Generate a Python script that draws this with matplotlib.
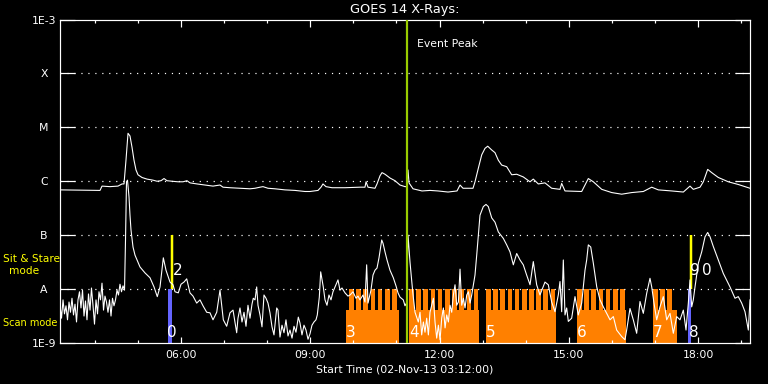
import matplotlib
matplotlib.use("Agg")
import matplotlib.pyplot as plt
import numpy as np

# ---------------- data (time in decimal hours of 02-Nov-13, flux as log10 W/m^2)
long_t = [3.200, 4.128, 4.174, 4.359, 4.545, 4.638, 4.684, 4.730, 4.777, 4.823,
          4.870, 4.916, 4.962, 5.009, 5.101, 5.217, 5.357, 5.449, 5.542, 5.612,
          5.681, 5.797, 5.936, 6.052, 6.145, 6.214, 6.377, 6.562, 6.748, 6.910,
          6.980, 7.142, 7.374, 7.606, 7.722, 7.838, 7.907, 8.023, 8.185, 8.417,
          8.649, 8.881, 8.997, 9.183, 9.252, 9.298, 9.368, 9.507, 9.809, 10.156,
          10.272, 10.296, 10.342, 10.504, 10.551, 10.620, 10.667, 10.736, 10.852, 10.968,
          11.084, 11.200, 11.246, 11.270, 11.293, 11.386, 11.594, 11.780, 11.966, 12.198,
          12.406, 12.476, 12.545, 12.777, 12.823, 12.900, 12.979, 13.055, 13.118, 13.211,
          13.287, 13.364, 13.442, 13.558, 13.674, 13.790, 13.943, 14.099, 14.175, 14.291,
          14.446, 14.601, 14.794, 14.833, 14.910, 15.297, 15.374, 15.451, 15.567, 15.762,
          15.994, 16.225, 16.457, 16.726, 16.921, 17.074, 17.385, 17.654, 17.809, 17.885,
          18.041, 18.117, 18.219, 18.312, 18.465, 18.697, 18.928, 19.200]
long_log = [-6.16, -6.17, -6.09, -6.10, -6.09, -6.05, -6.05, -5.61, -5.11, -5.16,
            -5.37, -5.61, -5.79, -5.88, -5.93, -5.96, -5.98, -6.00, -5.99, -5.95,
            -5.99, -6.00, -6.01, -6.01, -5.99, -6.03, -6.05, -6.07, -6.09, -6.07,
            -6.11, -6.12, -6.13, -6.14, -6.13, -6.11, -6.10, -6.13, -6.14, -6.16,
            -6.17, -6.19, -6.19, -6.17, -6.11, -6.05, -6.10, -6.12, -6.12, -6.11,
            -6.11, -6.01, -6.11, -6.13, -6.05, -5.90, -5.84, -5.87, -5.94, -5.99,
            -6.07, -6.10, -6.10, -5.79, -6.03, -6.14, -6.18, -6.17, -6.18, -6.20,
            -6.18, -6.07, -6.13, -6.13, -6.01, -5.76, -5.51, -5.39, -5.35, -5.42,
            -5.47, -5.61, -5.70, -5.73, -5.88, -5.87, -5.92, -6.01, -5.96, -6.05,
            -6.03, -6.13, -6.15, -6.04, -6.18, -6.19, -6.07, -5.95, -6.01, -6.15,
            -6.21, -6.24, -6.21, -6.19, -6.11, -6.16, -6.18, -6.20, -6.09, -6.15,
            -6.11, -6.01, -5.78, -5.84, -5.93, -6.01, -6.06, -6.13]

short_t = [3.200, 3.235, 3.270, 3.304, 3.339, 3.374, 3.409, 3.443, 3.478, 3.513,
           3.548, 3.583, 3.617, 3.652, 3.687, 3.722, 3.757, 3.791, 3.826, 3.861,
           3.896, 3.930, 3.965, 4.000, 4.035, 4.070, 4.104, 4.139, 4.174, 4.209,
           4.243, 4.278, 4.313, 4.348, 4.383, 4.417, 4.452, 4.487, 4.522, 4.556,
           4.591, 4.626, 4.661, 4.696, 4.719, 4.742, 4.765, 4.800, 4.823, 4.846,
           4.893, 4.939, 5.055, 5.171, 5.287, 5.380, 5.456, 5.519, 5.596, 5.658,
           5.751, 5.820, 5.867, 5.943, 6.006, 6.075, 6.138, 6.214, 6.284, 6.370,
           6.446, 6.516, 6.602, 6.678, 6.748, 6.834, 6.910, 6.987, 7.065, 7.142,
           7.212, 7.297, 7.327, 7.374, 7.420, 7.467, 7.513, 7.559, 7.606, 7.652,
           7.682, 7.722, 7.761, 7.791, 7.838, 7.884, 7.930, 7.977, 8.023, 8.069,
           8.116, 8.162, 8.225, 8.255, 8.301, 8.348, 8.394, 8.440, 8.487, 8.533,
           8.580, 8.626, 8.672, 8.726, 8.765, 8.811, 8.858, 8.904, 8.951, 8.997,
           9.043, 9.090, 9.136, 9.166, 9.213, 9.245, 9.305, 9.345, 9.391, 9.437,
           9.484, 9.530, 9.600, 9.646, 9.693, 9.739, 9.809, 9.878, 9.925, 9.994,
           10.064, 10.110, 10.156, 10.226, 10.272, 10.311, 10.342, 10.411, 10.458, 10.504,
           10.551, 10.597, 10.660, 10.690, 10.736, 10.783, 10.852, 10.929, 10.991, 11.038,
           11.084, 11.160, 11.200, 11.235, 11.270, 11.316, 11.379, 11.432, 11.508, 11.548,
           11.587, 11.626, 11.664, 11.703, 11.742, 11.780, 11.819, 11.858, 11.896, 11.935,
           11.974, 12.013, 12.051, 12.090, 12.129, 12.167, 12.206, 12.244, 12.283, 12.322,
           12.360, 12.399, 12.438, 12.476, 12.515, 12.554, 12.592, 12.631, 12.670, 12.708,
           12.747, 12.786, 12.823, 12.863, 12.939, 13.016, 13.078, 13.132, 13.211, 13.287,
           13.364, 13.480, 13.558, 13.635, 13.712, 13.790, 13.867, 13.943, 14.021, 14.099,
           14.175, 14.253, 14.330, 14.446, 14.523, 14.601, 14.678, 14.755, 14.794, 14.833,
           14.871, 14.910, 14.949, 14.987, 15.065, 15.142, 15.218, 15.297, 15.374, 15.413,
           15.451, 15.507, 15.567, 15.646, 15.722, 15.799, 15.877, 15.954, 16.031, 16.108,
           16.224, 16.301, 16.340, 16.417, 16.494, 16.572, 16.649, 16.726, 16.804, 16.881,
           16.921, 16.974, 17.036, 17.113, 17.190, 17.268, 17.345, 17.422, 17.500, 17.577,
           17.654, 17.716, 17.770, 17.809, 17.848, 17.885, 17.925, 18.002, 18.080, 18.157,
           18.219, 18.273, 18.349, 18.465, 18.581, 18.736, 18.852, 18.928, 19.007, 19.084,
           19.161, 19.200]
short_log = [-8.30, -8.54, -8.20, -8.46, -8.31, -8.57, -8.24, -8.43, -8.17, -8.48,
             -8.28, -8.61, -8.20, -8.05, -8.35, -8.02, -8.50, -8.22, -8.57, -8.09,
             -8.39, -7.98, -8.30, -8.65, -8.20, -8.46, -8.05, -8.20, -7.89, -8.39,
             -8.13, -8.24, -8.43, -8.20, -8.50, -8.17, -8.31, -8.20, -8.02, -8.11,
             -7.91, -8.05, -7.94, -8.02, -7.09, -6.01, -5.98, -6.29, -6.63, -6.90,
             -7.22, -7.37, -7.59, -7.70, -7.79, -7.96, -8.14, -7.96, -7.42, -7.65,
             -7.87, -7.92, -8.05, -8.07, -7.91, -7.87, -7.81, -8.07, -8.13, -8.26,
             -8.20, -8.31, -8.43, -8.44, -8.57, -8.43, -8.02, -8.57, -8.69, -8.44,
             -8.39, -8.81, -8.54, -8.35, -8.61, -8.43, -8.69, -8.30, -8.54, -8.28,
             -8.17, -8.20, -7.96, -8.30, -8.48, -8.70, -8.11, -8.17, -8.26, -8.44,
             -8.70, -8.85, -8.35, -8.39, -8.89, -8.67, -8.81, -8.57, -8.87, -8.76,
             -8.91, -8.69, -8.80, -8.52, -8.63, -8.85, -8.67, -8.76, -8.93, -8.83,
             -8.67, -8.61, -8.57, -8.48, -8.15, -7.68, -7.96, -8.20, -8.30, -8.11,
             -8.20, -8.05, -7.92, -7.83, -8.02, -7.98, -8.07, -8.13, -8.11, -8.05,
             -8.17, -8.13, -8.20, -8.11, -8.24, -7.55, -8.26, -8.02, -7.74, -7.65,
             -7.61, -7.42, -7.09, -7.15, -7.31, -7.46, -7.65, -7.79, -7.94, -8.07,
             -8.15, -8.20, -8.31, -8.26, -7.00, -7.50, -8.05, -8.43, -8.61, -8.43,
             -8.85, -8.61, -8.80, -8.54, -8.85, -8.43, -8.30, -8.17, -8.61, -8.91,
             -8.67, -8.94, -8.54, -8.35, -8.72, -8.48, -8.61, -8.30, -8.43, -8.11,
             -7.92, -8.30, -8.24, -7.63, -8.30, -8.17, -8.35, -8.11, -8.05, -8.26,
             -8.11, -7.92, -7.74, -7.37, -6.63, -6.47, -6.43, -6.47, -6.68, -6.76,
             -6.94, -7.06, -7.18, -7.31, -7.55, -7.34, -7.46, -7.55, -7.74, -7.92,
             -7.49, -7.92, -8.11, -7.87, -7.92, -8.24, -8.42, -8.11, -7.86, -8.42,
             -7.46, -8.48, -8.35, -8.60, -8.54, -8.14, -8.48, -8.26, -7.65, -7.46,
             -7.18, -7.22, -7.52, -7.96, -8.20, -8.33, -8.45, -8.57, -8.51, -8.76,
             -8.88, -8.94, -8.76, -8.36, -8.57, -8.82, -8.23, -8.45, -8.08, -7.80,
             -7.96, -8.26, -8.57, -8.33, -8.14, -8.57, -8.45, -8.82, -8.51, -8.57,
             -8.39, -8.76, -8.26, -7.83, -8.33, -8.20, -7.96, -7.52, -7.31, -7.03,
             -6.95, -7.03, -7.21, -7.46, -7.71, -7.96, -8.17, -8.14, -8.26, -8.42,
             -8.76, -8.20]

# scan-mode blocks: start, end, first tooth, number of teeth
scan_start = [9.832, 11.293, 13.078, 15.188, 16.951]
scan_end = [11.061, 12.916, 14.701, 16.325, 17.507]
scan_first_tooth = [9.901, 11.293, 13.078, 15.188, 16.951]
scan_n_teeth = [7, 10, 10, 7, 3]
tooth_period_h = 10.0 / 60.0
tooth_width_h = 6.5 / 60.0
scan_block_top = 10 ** -8.39

# sit & stare / single scan markers
blue_start = [5.697, 17.762]
blue_end = [5.790, 17.832]
stare_t = [5.800, 17.840]

event_peak_t = 11.246

obs_labels = ["0", "2", "3", "4", "5", "6", "7", "8", "9", "0"]
obs_t = [5.80, 5.92, 9.95, 11.40, 13.19, 15.30, 17.06, 17.89, 17.93, 18.20]
obs_log = [-8.81, -7.66, -8.81, -8.81, -8.81, -8.81, -8.81, -8.81, -7.66, -7.66]

ytick_vals = [1e-9, 1e-8, 1e-7, 1e-6, 1e-5, 1e-4, 1e-3]
ytick_labels = ["1E-9", "A", "B", "C", "M", "X", "1E-3"]
grid_levels = [1e-8, 1e-7, 1e-6, 1e-5, 1e-4]
xtick_major = [6, 9, 12, 15, 18]
xtick_labels = ["06:00", "09:00", "12:00", "15:00", "18:00"]
xtick_minor = list(range(4, 20))

# ---------------- figure
W, H = 768, 384
fig = plt.figure(figsize=(W / 100, H / 100), dpi=100, facecolor="black")
ax = fig.add_axes([60 / W, 41 / H, 690 / W, 323.5 / H], facecolor="black")
px = 0.72  # one pixel in points

ax.set_yscale("log")
ax.set_xlim(3.2, 19.2)
ax.set_ylim(1e-9, 1e-3)

orange = "#ff8000"
for s, e, ft, n in zip(scan_start, scan_end, scan_first_tooth, scan_n_teeth):
    ax.bar(s, scan_block_top - 1e-9, bottom=1e-9, width=e - s, align="edge",
           color=orange, linewidth=0, zorder=1)
    for k in range(n):
        ts = ft + k * tooth_period_h
        ax.bar(ts, 1e-8 - 1e-9, bottom=1e-9, width=tooth_width_h, align="edge",
               color=orange, linewidth=0, zorder=1)

for s, e in zip(blue_start, blue_end):
    ax.bar(s, 1e-8 - 1e-9, bottom=1e-9, width=e - s, align="edge",
           color="#6464ff", linewidth=0, zorder=1)
ax.vlines(stare_t, 1e-8, 1e-7, colors="#ffff00", linewidth=2.5 * px, zorder=2)

for lv in grid_levels:
    ax.axhline(lv, color="white", linewidth=1.2 * px, linestyle=(0, (1, 4.8)), zorder=1.5)

ax.plot(long_t, 10 ** np.array(long_log), color="white", linewidth=1.1 * px, zorder=3)
ax.plot(short_t, 10 ** np.array(short_log), color="white", linewidth=1.1 * px, zorder=3)

ax.axvline(event_peak_t, color="#99cc00", linewidth=2.2 * px, zorder=4)
ax.text(event_peak_t + 0.23, 10 ** -3.45, "Event Peak", color="white", fontsize=7.8,
        va="center", ha="left", zorder=5)

for lab, t, lg in zip(obs_labels, obs_t, obs_log):
    ax.text(t, 10 ** lg, lab, color="white", fontsize=11, ha="center", va="center",
            zorder=5)

# axes styling
for sp in ax.spines.values():
    sp.set_color("white")
    sp.set_linewidth(1.2 * px)

ax.set_yticks(ytick_vals)
ax.set_yticklabels(ytick_labels)
ax.yaxis.set_minor_locator(matplotlib.ticker.NullLocator())
ax.tick_params(axis="y", which="major", direction="in", length=15 * px, width=1.2 * px,
               color="white", labelcolor="white", labelsize=7.8, left=True, right=True,
               pad=16 * px)
for lbl in ax.get_yticklabels():
    lbl.set_horizontalalignment("center")

ax.set_xticks(xtick_major)
ax.set_xticklabels(xtick_labels)
ax.set_xticks(xtick_minor, minor=True)
ax.tick_params(axis="x", which="major", direction="in", length=6.5 * px, width=1.2 * px,
               color="white", labelcolor="white", labelsize=7.8, top=True, bottom=True,
               pad=7 * px)
ax.tick_params(axis="x", which="minor", direction="in", length=3.3 * px, width=1.2 * px,
               color="white", top=True, bottom=True)

fig.text(405 / W, 1 - 9 / H, "GOES 14 X-Rays:", color="white", fontsize=9.3,
         ha="center", va="center")
fig.text(405 / W, 1 - 369 / H, "Start Time (02-Nov-13 03:12:00)", color="white",
         fontsize=7.8, ha="center", va="center")
fig.text(3 / W, 1 - 259 / H, "Sit & Stare", color="#ffff00", fontsize=7.6,
         ha="left", va="center")
fig.text(24.5 / W, 1 - 271 / H, "mode", color="#ffff00", fontsize=7.6,
         ha="center", va="center")
fig.text(3 / W, 1 - 323 / H, "Scan mode", color="#ffff00", fontsize=7.0,
         ha="left", va="center")

fig.savefig("out.png", dpi=100, facecolor="black")
